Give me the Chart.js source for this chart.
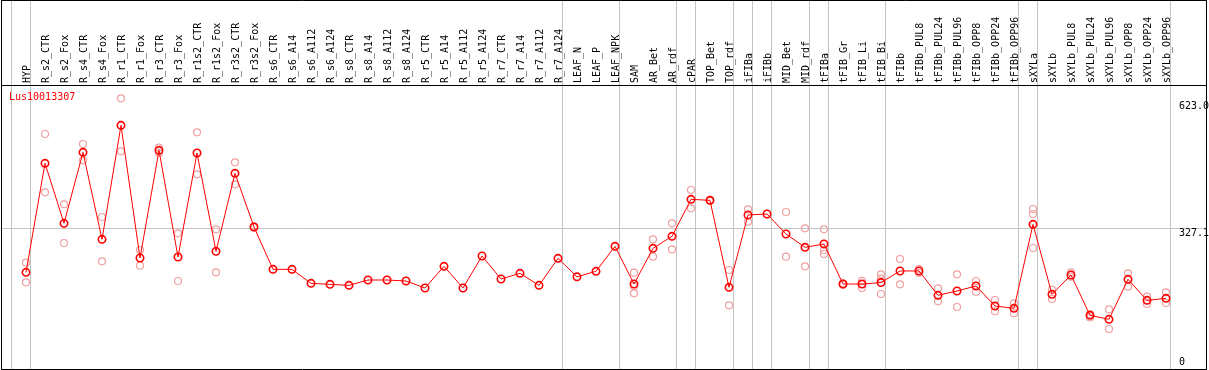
<!DOCTYPE html>
<html>
<head>
<meta charset="utf-8">
<script src="https://cdn.jsdelivr.net/npm/chart.js@4/dist/chart.umd.min.js"></script>
<style>
html,body{margin:0;padding:0;background:#fff;}
canvas{display:block;}
</style>
</head>
<body>
<canvas id="c" width="1209" height="370"></canvas>
<script>
const title = "Lus10013307";
const categories = ["HYP","R_s2_CTR","R_s2_Fox","R_s4_CTR","R_s4_Fox","R_r1_CTR","R_r1_Fox","R_r3_CTR","R_r3_Fox","R_r1s2_CTR","R_r1s2_Fox","R_r3s2_CTR","R_r3s2_Fox","R_s6_CTR","R_s6_A14","R_s6_A112","R_s6_A124","R_s8_CTR","R_s8_A14","R_s8_A112","R_s8_A124","R_r5_CTR","R_r5_A14","R_r5_A112","R_r5_A124","R_r7_CTR","R_r7_A14","R_r7_A112","R_r7_A124","LEAF_N","LEAF_P","LEAF_NPK","SAM","AR_Bet","AR_rdf","cPAR","TOP_Bet","TOP_rdf","iFIBa","iFIBb","MID_Bet","MID_rdf","tFIBa","tFIB_Gr","tFIB_Li","tFIB_Bi","tFIBb","tFIBb_PUL8","tFIBb_PUL24","tFIBb_PUL96","tFIBb_OPP8","tFIBb_OPP24","tFIBb_OPP96","sXYLa","sXYLb","sXYLb_PUL8","sXYLb_PUL24","sXYLb_PUL96","sXYLb_OPP8","sXYLb_OPP24","sXYLb_OPP96"];
const means = [224.7,478.2,338.7,503.8,301.5,566.5,258.1,508.4,260.4,502.2,273.6,454.9,330.2,231.7,231.7,199.2,196.8,194.5,206.9,206.9,204.6,188.3,238.7,188.3,262.7,209.3,222.4,194.5,257.3,214.3,227.1,285.2,197.6,280.5,308.5,394.5,392.1,189.9,358.1,360.4,313.9,282.9,290.6,197.6,197.5,201.0,227.9,227.9,171.3,181.4,193.0,146.5,141.1,336.3,173.6,218.6,124.8,115.5,208.5,159.6,164.3];
const rep1 = [247.2,546.4,382.9,523.1,353.4,629.3,276.7,514.6,315.4,550.3,324.7,480.5,331.5,null,null,null,null,null,null,null,null,null,null,null,null,null,null,null,null,null,null,null,224.0,301.5,338.6,416.2,393.5,230.2,371.2,null,365.0,327.1,324.7,196.0,188.3,220.1,255.8,232.0,187.6,220.1,204.6,160.4,152.6,372.0,184.5,224.7,127.5,138.7,222.4,168.2,178.3];
const rep2 = [201.5,410.8,293.0,485.2,250.3,506.1,240.3,503.0,204.6,452.6,224.7,429.4,329.0,null,null,null,null,null,null,null,null,null,null,null,null,null,null,null,null,null,null,null,192.8,261.2,278.2,373.6,391.0,148.1,342.5,null,261.2,238.7,276.7,199.0,205.0,174.4,196.8,223.5,157.3,144.2,179.8,134.1,129.4,360.4,162.8,214.7,120.0,93.0,191.4,151.1,153.5];
const rep3 = [null,null,null,null,null,null,null,null,null,null,null,null,null,null,null,null,null,null,null,null,null,null,null,null,null,null,null,null,null,null,null,null,175.9,null,null,null,null,null,null,null,null,null,267.4,null,null,210.0,null,null,null,null,null,null,null,281.3,null,null,null,null,null,null,null];
const yTickValues = [0, 327.1, 623.0];
const yTickLabels = ["0", "327.1", "623.0"];
const gridValue = 327.1;
const groupEnds = [-1, 0, 28, 31, 34, 35, 37, 38, 39, 41, 42, 45, 52, 53, 60];

const MONO = '"DejaVu Sans Mono", "Liberation Mono", monospace';
const toPts = arr => arr.map((v, i) => ({x: i, y: v}));

const decor = {
  id: 'decor',
  beforeDatasetsDraw(chart) {
    const ctx = chart.ctx, xs = chart.scales.x;
    ctx.save();
    ctx.strokeStyle = '#c4c4c4';
    ctx.lineWidth = 1;
    groupEnds.forEach(g => {
      const px = Math.round(xs.getPixelForValue(g + 0.21)) + 0.5;
      ctx.beginPath();
      ctx.moveTo(px, 0);
      ctx.lineTo(px, chart.chartArea.bottom);
      ctx.stroke();
    });
    ctx.restore();
  },
  afterDraw(chart) {
    const ctx = chart.ctx, ca = chart.chartArea, ys = chart.scales.y;
    ctx.save();
    ctx.strokeStyle = '#000';
    ctx.lineWidth = 1;
    ctx.beginPath();
    ctx.moveTo(1, 0.5); ctx.lineTo(ca.right + 1, 0.5);
    ctx.moveTo(1, ca.top + 0.5); ctx.lineTo(ca.right + 1, ca.top + 0.5);
    ctx.moveTo(1, ca.bottom + 0.5); ctx.lineTo(ca.right + 1, ca.bottom + 0.5);
    ctx.moveTo(1.5, 0); ctx.lineTo(1.5, ca.bottom + 1);
    ctx.moveTo(ca.right + 0.5, 0); ctx.lineTo(ca.right + 0.5, ca.bottom + 1);
    ctx.stroke();
    ctx.font = '10px ' + MONO;
    ctx.fillStyle = '#ff0000';
    ctx.textAlign = 'left';
    ctx.textBaseline = 'middle';
    ctx.fillText(title, 9, ca.top + 12);
    ctx.fillStyle = '#000';
    yTickValues.forEach((v, k) => {
      let py = ys.getPixelForValue(v) + 5;
      if (py > ca.bottom - 7) py = ca.bottom - 7;
      ctx.fillText(yTickLabels[k], 1179, py);
    });
    ctx.restore();
  }
};

new Chart(document.getElementById('c'), {
  type: 'scatter',
  data: {
    datasets: [
      {
        data: toPts(means),
        showLine: true,
        borderColor: '#ff0000',
        backgroundColor: 'rgba(0,0,0,0)',
        borderWidth: 1,
        pointRadius: 3.7,
        pointBorderWidth: 1.6,
        pointBorderColor: '#ff0000',
        pointBackgroundColor: 'rgba(0,0,0,0)',
        tension: 0
      },
      {data: toPts(rep1), showLine: false, pointRadius: 3.5, pointBorderWidth: 1.2, pointBorderColor: '#f0a0a0', pointBackgroundColor: 'rgba(0,0,0,0)'},
      {data: toPts(rep2), showLine: false, pointRadius: 3.5, pointBorderWidth: 1.2, pointBorderColor: '#f0a0a0', pointBackgroundColor: 'rgba(0,0,0,0)'},
      {data: toPts(rep3), showLine: false, pointRadius: 3.5, pointBorderWidth: 1.2, pointBorderColor: '#f0a0a0', pointBackgroundColor: 'rgba(0,0,0,0)'}
    ]
  },
  options: {
    responsive: false,
    animation: false,
    devicePixelRatio: 1,
    layout: {autoPadding: false, padding: {left: 1, right: 3, top: 0, bottom: 1}},
    plugins: {legend: {display: false}, tooltip: {enabled: false}},
    scales: {
      x: {
        type: 'linear',
        position: 'top',
        min: -25 / 19,
        max: 60 + 40 / 19,
        afterBuildTicks: s => { s.ticks = categories.map((_, i) => ({value: i})); },
        afterFit: s => { s.height = 85; s.paddingLeft = 0; s.paddingRight = 0; s.paddingTop = 0; s.paddingBottom = 0; },
        grid: {display: false, drawTicks: false},
        border: {display: false},
        ticks: {
          autoSkip: false,
          minRotation: 90,
          maxRotation: 90,
          padding: 2,
          labelOffset: 13,
          color: '#000',
          font: {family: MONO, size: 10},
          callback: v => categories[v]
        }
      },
      y: {
        type: 'linear',
        position: 'right',
        min: 0,
        max: 660.3,
        afterBuildTicks: s => { s.ticks = [{value: gridValue}]; },
        afterFit: s => { s.width = 0; s.paddingLeft = 0; s.paddingRight = 0; s.paddingTop = 0; s.paddingBottom = 0; },
        grid: {color: '#c4c4c4', drawTicks: false, lineWidth: 1},
        border: {display: false},
        ticks: {display: false}
      }
    }
  },
  plugins: [decor]
});
</script>
</body>
</html>
